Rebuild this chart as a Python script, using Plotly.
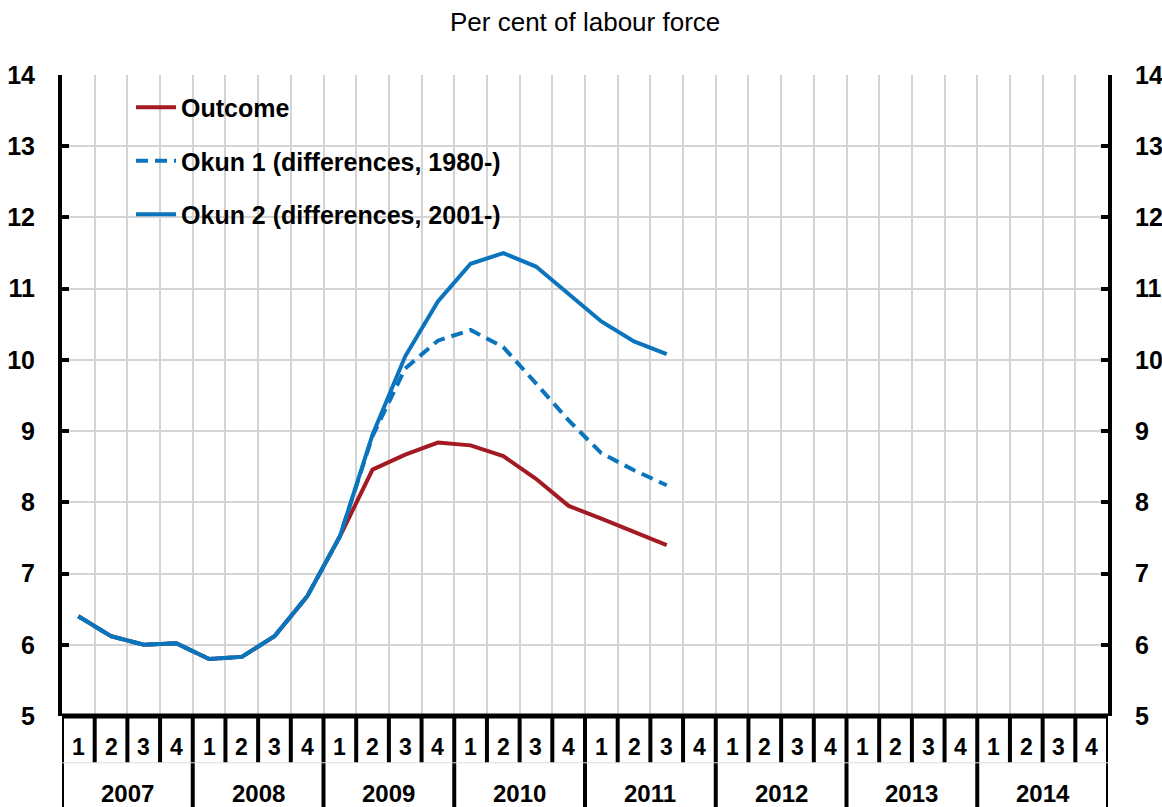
import plotly.graph_objects as go

# quarterly data, 2007Q1 .. 2011Q3
years = ['2007', '2008', '2009', '2010', '2011', '2012', '2013', '2014']
quarters = ['1', '2', '3', '4']

outcome = [6.40, 6.12, 6.00, 6.02, 5.80, 5.83, 6.12, 6.68, 7.52,
           8.46, 8.67, 8.84, 8.80, 8.65, 8.33, 7.95, 7.77, 7.59, 7.40]
okun1 = [6.40, 6.12, 6.00, 6.02, 5.80, 5.83, 6.12, 6.68, 7.52,
         8.93, 9.88, 10.27, 10.42, 10.18, 9.67, 9.15, 8.69, 8.45, 8.24]
okun2 = [6.40, 6.12, 6.00, 6.02, 5.80, 5.83, 6.12, 6.68, 7.52,
         8.95, 10.05, 10.82, 11.35, 11.50, 11.31, 10.93, 10.54, 10.26, 10.08]

RED = '#A31A22'
BLUE = '#0A75BD'
FONT = 'Liberation Sans, Arial, sans-serif'
nq = len(years) * 4

def xs(vals):
	return [i + 0.5 for i in range(len(vals))]

fig = go.Figure()
fig.add_trace(go.Scatter(x=xs(outcome), y=outcome, mode='lines', name='Outcome',
	line=dict(color=RED, width=4), legendgroup='a'))
fig.add_trace(go.Scatter(x=xs(okun1), y=okun1, mode='lines', name='Okun 1 (differences, 1980-)',
	line=dict(color=BLUE, width=4, dash='12px,7px'), legendgroup='b'))
fig.add_trace(go.Scatter(x=xs(okun2), y=okun2, mode='lines', name='Okun 2 (differences, 2001-)',
	line=dict(color=BLUE, width=4), legendgroup='c'))

shapes = []
annots = []
# bottom category axis: quarters and years
for i in range(nq):
	annots.append(dict(x=i + 0.5, y=-0.048, xref='x', yref='paper', text='<b>' + quarters[i % 4] + '</b>',
		showarrow=False, font=dict(size=23, color='black', family=FONT), yanchor='middle'))
	if i % 4 != 0:
		shapes.append(dict(type='line', xref='x', yref='paper', x0=i, x1=i, y0=0, y1=-0.073,
			line=dict(color='black', width=4)))
for k, yr in enumerate(years):
	annots.append(dict(x=k * 4 + 2, y=-0.121, xref='x', yref='paper', text='<b>' + yr + '</b>',
		showarrow=False, font=dict(size=24, color='black', family=FONT), yanchor='middle'))
for k in range(len(years) + 1):
	shapes.append(dict(type='line', xref='x', yref='paper', x0=k * 4, x1=k * 4, y0=0, y1=-0.15,
		line=dict(color='black', width=4)))
shapes.append(dict(type='line', xref='x', yref='paper', x0=0, x1=nq, y0=-0.073, y1=-0.073,
	line=dict(color='#dddddd', width=1)))
shapes.append(dict(type='line', xref='x', yref='paper', x0=0, x1=nq, y0=0, y1=0,
	line=dict(color='black', width=5)))

annots.append(dict(x=0.5, y=1.0, xref='paper', yref='paper', yshift=53, text='Per cent of labour force',
	showarrow=False, font=dict(size=26, color='black', family=FONT), yanchor='middle'))

yax = dict(range=[5, 14], dtick=1, showgrid=True, gridcolor='#d4d4d4', gridwidth=1.5,
	showline=True, linecolor='black', linewidth=4, ticks='inside', ticklen=7, tickwidth=4,
	tickcolor='black', tickfont=dict(size=25, color='black', family=FONT, weight='bold'),
	zeroline=False, fixedrange=True, ticklabelstandoff=18, automargin=False)

fig.update_layout(
	width=1162, height=807,
	margin=dict(l=62, r=54, t=75, b=91, autoexpand=False),
	plot_bgcolor='white', paper_bgcolor='white',
	font=dict(family=FONT, color='black'),
	xaxis=dict(range=[0, nq], dtick=1, tick0=0, showgrid=True, gridcolor='#d4d4d4', gridwidth=1.5,
		showticklabels=False, ticks='', zeroline=False, showline=False, automargin=False),
	yaxis=yax,
	yaxis2=dict(yax, overlaying='y', side='right', showgrid=False),
	shapes=shapes,
	annotations=annots,
	showlegend=True,
	legend=dict(x=0.066, y=0.985, xanchor='left', yanchor='top', bgcolor='rgba(0,0,0,0)',
		font=dict(size=25, color='black', family=FONT, weight='bold'), tracegroupgap=18,
		itemwidth=40, traceorder='grouped'),
)
# invisible trace to show right axis
fig.add_trace(go.Scatter(x=[None], y=[None], yaxis='y2', showlegend=False))

fig.write_html('out.html', config={'displayModeBar': False},
	post_script="document.body.style.margin='0';")
